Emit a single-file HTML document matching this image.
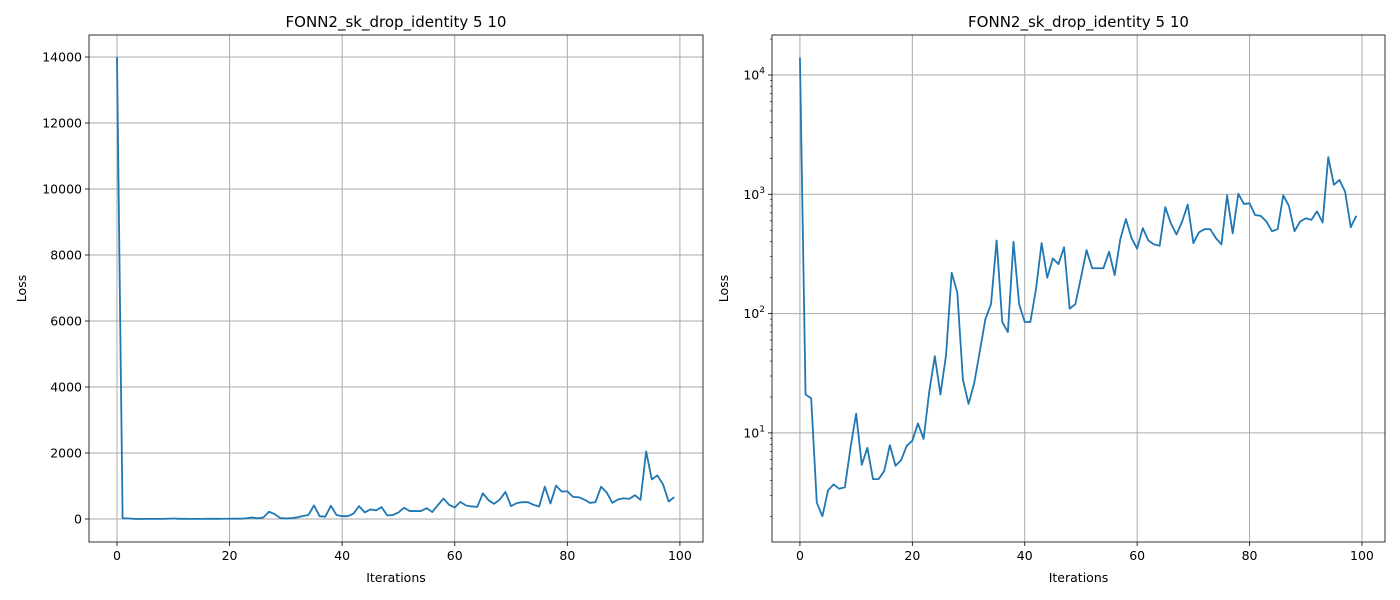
<!DOCTYPE html>
<html><head><meta charset="utf-8"><style>
body{margin:0;background:#fff;font-family:"Liberation Sans","DejaVu Sans",sans-serif}
svg{display:block}
</style></head><body>
<svg id="c" width="1400" height="600" font-family="DejaVu Sans, Liberation Sans, sans-serif"></svg>
<script>
const iterations=[];for(let i=0;i<100;i++)iterations.push(i);
const lossValues=[14000,21,19.5,2.6,2.0,3.3,3.7,3.4,3.5,7.5,14.5,5.4,7.5,4.1,4.1,4.8,7.9,5.3,5.9,7.8,8.6,12,8.9,22,44,21,45,220,150,28,17.5,26,48,90,120,410,85,70,400,120,85,85,160,390,200,290,260,360,110,120,200,340,240,240,240,330,210,420,620,430,350,520,410,380,370,780,570,460,590,820,390,480,510,510,430,380,980,470,1010,830,840,670,660,590,490,510,980,800,490,590,630,610,720,580,2050,1200,1320,1050,530,660];
const xTicks=[0,20,40,60,80,100];
const linTicks=[0,2000,4000,6000,8000,10000,12000,14000];
const logTicks=[1,2,3,4];
const NS="http://www.w3.org/2000/svg";
const svg=document.getElementById('c');
function el(t,a,p){const e=document.createElementNS(NS,t);for(const k in a)e.setAttribute(k,a[k]);(p||svg).appendChild(e);return e;}
function panel(L,R,T,B,yf,ticks,tickLabel,log,name){
  const g=el('g',{});
  
  
  const xf=v=>L+(v+4.97)/(109.07)*(R-L);
  xTicks.forEach(t=>{const x=xf(t);el('line',{x1:x,x2:x,y1:T,y2:B,stroke:'#aaaaaa','stroke-width':1},g);
    el('line',{x1:x,x2:x,y1:B,y2:B+4,stroke:'#000','stroke-width':0.8},g);
    const tx=el('text',{x:x,y:B+18,'text-anchor':'middle','font-size':12.5},g);tx.textContent=t;
    });
  ticks.forEach(t=>{const y=yf(log?Math.pow(10,t):t);el('line',{x1:L,x2:R,y1:y,y2:y,stroke:'#aaaaaa','stroke-width':1},g);
    el('line',{x1:L-4,x2:L,y1:y,y2:y,stroke:'#000','stroke-width':0.8},g);
    const tx=el('text',{x:L-7,y:y+4.5,'text-anchor':'end','font-size':12.5},g);
    if(log){tx.textContent='10';const s=el('tspan',{dy:-6,'font-size':9},tx);s.textContent=t;}else tx.textContent=t;
    });
  if(log){for(let d=0;d<5;d++)for(let m=2;m<10;m++){const v=m*Math.pow(10,d);const y=yf(v);if(y>T&&y<B)el('line',{x1:L-2,x2:L,y1:y,y2:y,stroke:'#000','stroke-width':0.6},g);}}
  const pts=iterations.map((x,i)=>xf(x).toFixed(2)+','+yf(lossValues[i]).toFixed(2)).join(' ');
  const pl=el('polyline',{points:pts,fill:'none',stroke:'#1f77b4','stroke-width':1.8,'stroke-linejoin':'round'},g);
  
  el('rect',{x:L,y:T,width:R-L,height:B-T,fill:'none',stroke:'#000','stroke-width':0.8},g);
  const tt=el('text',{x:(L+R)/2,y:T-8,'text-anchor':'middle','font-size':15},g);tt.textContent='FONN2_sk_drop_identity 5 10';
  
  const xl=el('text',{x:(L+R)/2,y:B+40,'text-anchor':'middle','font-size':12.5},g);xl.textContent='Iterations';
  
  const yl=el('text',{x:0,y:0,'text-anchor':'middle','font-size':12.5,transform:`translate(${name==='linear-panel'?26:728},${(T+B)/2}) rotate(-90)`},g);yl.textContent='Loss';
  
}
const linY=v=>519-v*0.033;
panel(89,703,35,542,linY,linTicks,null,false,'linear-panel');
const logY=v=>75-(Math.log10(v)-4)*119.3;
panel(772,1385,35,542,logY,logTicks,null,true,'log-panel');
</script>
</body></html>
